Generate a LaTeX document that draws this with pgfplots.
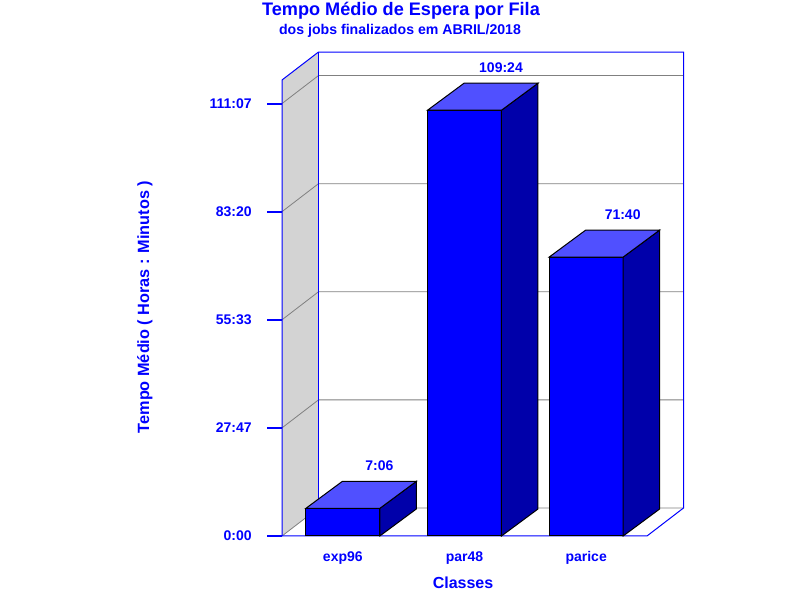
\documentclass[border=0pt]{standalone}
\usepackage{pgfplots}
\pgfplotsset{compat=1.18}
\usepackage{pgfplotstable}
\usepackage{fontspec}
\setmainfont{Liberation Sans}
\definecolor{cblue}{RGB}{0,0,255}
\definecolor{ctop}{RGB}{80,80,255}
\definecolor{cside}{RGB}{0,0,170}
\definecolor{cwall}{RGB}{211,211,211}
\definecolor{cgrid}{RGB}{128,128,128}

\pgfplotstableread{
x v label
0 426 7:06
1 6564 109:24
2 4300 71:40
}\datatable

\newcommand{\pxy}[2]{({(#1)*0.75pt},{(600-(#2))*0.75pt})}
\tikzset{
  vlab/.style={anchor=base, text=cblue, font=\bfseries\fontsize{10.5}{12}\selectfont, yshift=8.25pt},
  bedge/.style={draw=black, line width=0.75pt},
}

\begin{document}
\begin{tikzpicture}
\path[use as bounding box] (0,0) rectangle (600pt,450pt);
\node[anchor=base, text=cblue, font=\bfseries\fontsize{13.6}{16}\selectfont] at \pxy{401}{16} {Tempo Médio de Espera por Fila};
\node[anchor=base, text=cblue, font=\bfseries\fontsize{10.6}{12}\selectfont] at \pxy{400}{35} {dos jobs finalizados em ABRIL/2018};
\node[anchor=base, rotate=90, text=cblue, font=\bfseries\fontsize{12.2}{14}\selectfont] at \pxy{149}{307} {Tempo Médio ( Horas : Minutos )};
\node[anchor=base, text=cblue, font=\bfseries\fontsize{12}{14}\selectfont] at \pxy{463}{588} {Classes};
\begin{axis}[
  name=ax,
  at={(211.5pt,48pt)}, anchor=south west,
  scale only axis, width=273.75pt, height=342pt,
  xmin=-0.5, xmax=2.5, ymin=0, ymax=7030,
  clip=false,
  axis line style={draw=none},
  xtick={0,1,2}, xticklabels={exp96,par48,parice},
  ytick={0,1666.75,3333.5,5000.25,6667},
  yticklabels={0:00,27:47,55:33,83:20,111:07},
  xtick style={draw=none},
  ytick style={draw=none},
  ytick pos=left, xtick pos=bottom,
  tick align=outside, major tick length=11.25pt,
  ticklabel style={text=cblue, font=\bfseries\fontsize{10.5}{12}\selectfont, inner sep=0pt},
  yticklabel style={xshift=-11.25pt},
]
% left wall
\fill[cwall] (axis cs:-0.5,0) -- (axis cs:-0.2,431.6) -- (axis cs:-0.2,7461.6) -- (axis cs:-0.5,7030) -- cycle;
% grid lines
\pgfplotsinvokeforeach{1666.75,3333.5,5000.25,6667}{
  \draw[cgrid, line width=0.6pt] (axis cs:-0.5,#1) -- (axis cs:{-0.2},{#1+431.6}) -- (axis cs:{2.8},{#1+431.6});
}
\draw[cgrid, line width=0.6pt] (axis cs:-0.5,0) -- (axis cs:-0.2,431.6) -- (axis cs:2.8,431.6);
% frame
\draw[cblue, line width=0.75pt] (axis cs:-0.5,0) -- (axis cs:-0.5,7030) -- (axis cs:-0.2,7461.6) -- (axis cs:2.8,7461.6) -- (axis cs:2.8,431.6) -- (axis cs:2.5,0) -- cycle;
\draw[cblue, line width=0.75pt] (axis cs:-0.2,431.6) -- (axis cs:-0.2,7461.6);
% bars: front faces
\addplot[ybar, bar width=55.5pt, fill=cblue, bedge] table[x=x, y=v] {\datatable};
% bars: top and side faces, value labels
\pgfplotsinvokeforeach{0,1,2}{
  \pgfplotstablegetelem{#1}{v}\of\datatable
  \let\val\pgfplotsretval
  \pgfplotstablegetelem{#1}{label}\of\datatable
  \let\lab\pgfplotsretval
  \edef\doit{
    \noexpand\fill[fill=cside, bedge] (axis cs:{#1+0.304},0) -- (axis cs:{#1+0.604},416.2) -- (axis cs:{#1+0.604},{\val+416.2}) -- (axis cs:{#1+0.304},\val) -- cycle;
    \noexpand\fill[fill=ctop, bedge] (axis cs:{#1-0.304},\val) -- (axis cs:{#1-0.004},{\val+416.2}) -- (axis cs:{#1+0.604},{\val+416.2}) -- (axis cs:{#1+0.304},\val) -- cycle;
    \noexpand\node[vlab] at (axis cs:{#1+0.3},{\val+416.2}) {\lab};
  }
  \doit
}
\end{axis}
% y tick marks (axis decoration), 15px long, drawn last at the tick heights
\draw[cblue, line width=1pt] \pxy{267}{536} -- \pxy{282}{536};
\draw[cblue, line width=1pt] \pxy{267}{428} -- \pxy{282}{428};
\draw[cblue, line width=1pt] \pxy{267}{320} -- \pxy{282}{320};
\draw[cblue, line width=1pt] \pxy{267}{212} -- \pxy{282}{212};
\draw[cblue, line width=1pt] \pxy{267}{104} -- \pxy{282}{104};
\end{tikzpicture}
\end{document}
